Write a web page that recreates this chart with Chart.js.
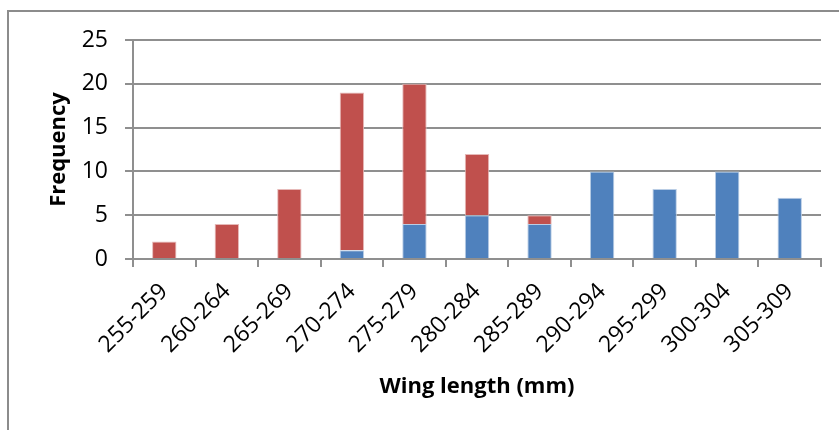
<!DOCTYPE html>
<html>
<head>
<meta charset="utf-8">
<script src="https://cdn.jsdelivr.net/npm/chart.js@4/dist/chart.umd.min.js"></script>
<style>
  html, body { margin: 0; padding: 0; background: #fff; }
  #wrap { position: relative; width: 839px; height: 430px; overflow: hidden; }
  #frame { position: absolute; left: 7px; top: 10px; width: 900px; height: 500px;
           border-left: 2px solid #8c8c8c; border-top: 2px solid #8c8c8c; }
  #chart { position: absolute; left: 0; top: 0; }
</style>
</head>
<body>
<div id="wrap">
  <div id="frame"></div>
  <canvas id="chart" width="839" height="430"></canvas>
</div>
<script>
// Wing-length classes (mm)
const categories = ['255-259', '260-264', '265-269', '270-274', '275-279', '280-284',
                    '285-289', '290-294', '295-299', '300-304', '305-309'];
// Frequencies per class for the two groups (stacked)
const blueCounts = [0, 0, 0, 1, 4, 5, 4, 10, 8, 10, 7];
const redCounts  = [2, 4, 8, 18, 16, 7, 1, 0, 0, 0, 0];
// Frequency axis
const yTicks = [0, 5, 10, 15, 20, 25];

const gridColor = '#8f8f8f';
const tickFont = { family: '"Open Sans"', size: 23 };
const titleFont = { family: '"Open Sans"', size: 22, weight: 'bold' };

new Chart(document.getElementById('chart'), {
  type: 'bar',
  data: {
    labels: categories,
    datasets: [
      {
        label: 'Blue',
        data: blueCounts,
        backgroundColor: '#4F81BD',
        borderColor: '#b9cde5',
        borderWidth: 1,
        categoryPercentage: 1,
        barPercentage: 0.39
      },
      {
        label: 'Red',
        data: redCounts,
        backgroundColor: '#C0504D',
        borderColor: '#e6b9b8',
        borderWidth: 1,
        categoryPercentage: 1,
        barPercentage: 0.39
      }
    ]
  },
  options: {
    responsive: false,
    animation: false,
    layout: { padding: { left: 0, right: 18, top: 40, bottom: 0 } },
    plugins: {
      legend: { display: false },
      tooltip: { enabled: false }
    },
    scales: {
      x: {
        stacked: true,
        grid: {
          offset: true,
          drawOnChartArea: false,
          drawTicks: true,
          tickLength: 8,
          color: gridColor,
          lineWidth: 2
        },
        border: { color: gridColor, width: 2 },
        ticks: {
          color: '#000',
          font: tickFont,
          minRotation: 45,
          maxRotation: 45,
          padding: 11,
          autoSkip: false
        },
        title: {
          display: true,
          text: 'Wing length (mm)',
          color: '#000',
          font: titleFont,
          padding: { top: 0, bottom: 30 }
        },
        afterFit: (scale) => { scale.height = 171; }
      },
      y: {
        stacked: true,
        min: yTicks[0],
        max: yTicks[yTicks.length - 1],
        afterBuildTicks: (scale) => { scale.ticks = yTicks.map(v => ({ value: v })); },
        grid: {
          color: gridColor,
          lineWidth: 2,
          tickLength: 8
        },
        border: { color: gridColor, width: 2 },
        ticks: {
          color: '#000',
          font: tickFont,
          padding: 17
        },
        title: {
          display: true,
          text: 'Frequency',
          color: '#000',
          font: titleFont,
          padding: { top: 46, bottom: 0 }
        },
        afterFit: (scale) => { scale.width = 133; }
      }
    }
  }
});
</script>
</body>
</html>
